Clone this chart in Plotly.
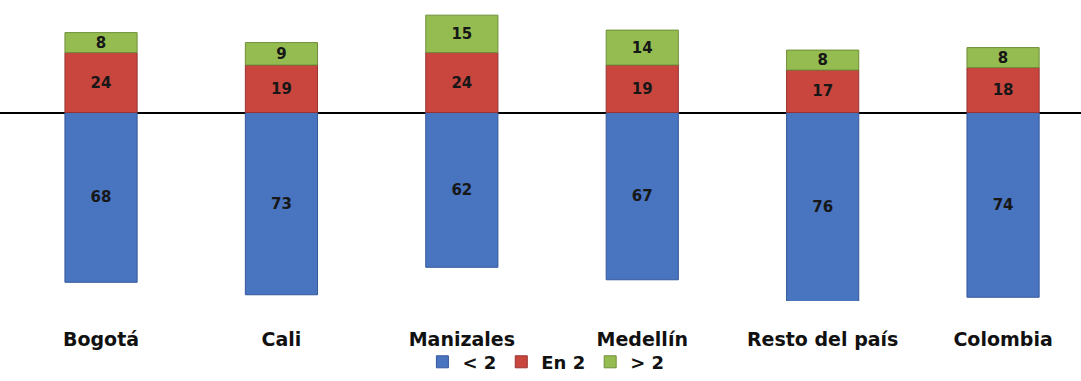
import plotly.graph_objects as go

categories = ["Bogotá", "Cali", "Manizales", "Medellín", "Resto del país", "Colombia"]
less2 = [68, 73, 62, 67, 76, 74]
en2 = [24, 19, 24, 19, 17, 18]
more2 = [8, 9, 15, 14, 8, 8]

font_family = "DejaVu Sans"
txt_font = dict(family=font_family, size=15, color="#171717", weight="bold")

fig = go.Figure()
fig.add_trace(go.Bar(
    x=categories, y=[-v for v in less2], name="< 2",
    text=[str(v) for v in less2], textposition="inside", insidetextanchor="middle",
    textangle=0, textfont=txt_font,
    marker=dict(color="#4874c0", line=dict(color="#34589a", width=1)),
    width=0.4,
))
fig.add_trace(go.Bar(
    x=categories, y=en2, name="En 2",
    text=[str(v) for v in en2], textposition="inside", insidetextanchor="middle",
    textangle=0, textfont=txt_font,
    marker=dict(color="#c9463f", line=dict(color="#963330", width=1)),
    width=0.4,
))
fig.add_trace(go.Bar(
    x=categories, y=more2, name="> 2",
    text=[str(v) for v in more2], textposition="inside", insidetextanchor="middle",
    textangle=0, textfont=txt_font,
    marker=dict(color="#94bc50", line=dict(color="#6f8f3a", width=1)),
    width=0.4,
))

fig.update_layout(
    barmode="relative",
    width=1081, height=381,
    margin=dict(l=0, r=0, t=0, b=76),
    paper_bgcolor="white", plot_bgcolor="white",
    font=dict(family=font_family, color="#111111"),
    xaxis=dict(
        range=[-0.56, 5.432], showgrid=False, showline=False, zeroline=False,
        ticks="", tickfont=dict(family=font_family, size=19, color="#111111", weight="bold"),
        ticklabelstandoff=25,
    ),
    yaxis=dict(
        range=[-75.5, 45.06], showgrid=False, showticklabels=False, showline=False,
        zeroline=True, zerolinecolor="#000000", zerolinewidth=1.5,
    ),
    legend=dict(
        orientation="h", x=0.505, xanchor="center", y=-0.203, yanchor="middle",
        font=dict(family=font_family, size=18, color="#111111", weight="bold"),
        traceorder="normal", itemwidth=30, bgcolor="rgba(0,0,0,0)",
    ),
    uniformtext=dict(minsize=15, mode="show"),
)

fig.write_html("out.html")
